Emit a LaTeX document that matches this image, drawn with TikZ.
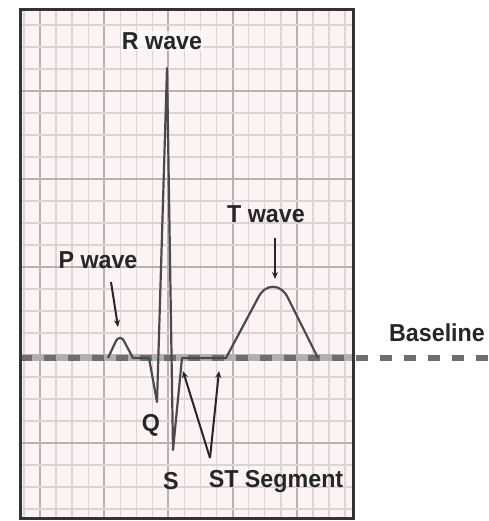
\documentclass[tikz,border=0pt]{standalone}
\usepackage{fontspec}
\setmainfont{Liberation Sans}
\newfontfamily\labfont[FakeStretch=0.95]{Liberation Sans}
\usetikzlibrary{arrows.meta}
\definecolor{paper}{HTML}{FCF4F4}
\definecolor{minorc}{HTML}{DDD3D3}
\definecolor{majorc}{HTML}{BAB0B0}
\definecolor{tracec}{HTML}{4A4A4A}
\definecolor{basec}{HTML}{6E6E6E}
\definecolor{textc}{HTML}{262626}
\tikzset{
  lab/.style={font=\labfont\bfseries\fontsize{24.5}{24.5}\selectfont, text=textc, inner sep=1pt},
  minorline/.style={draw=minorc, line width=1.4pt},
  majorline/.style={draw=majorc, line width=2pt},
  trace/.style={draw=tracec, line width=2.2pt, line join=round},
  pointer/.style={draw=textc, line width=2pt, -{Stealth[length=7pt,width=6pt]}},
  baseline/.style={draw=basec, line width=6pt, dash pattern=on 12pt off 12pt},
  frame/.style={draw=black!80, line width=3pt}
}
\begin{document}
\begin{tikzpicture}[x=1pt,y=-1pt]
\useasboundingbox (0,0) rectangle (488,521);
\fill[white] (0,0) rectangle (488,521);
% paper
\fill[paper] (20,10) rectangle (353,518);
% grid
\foreach \i in {0,...,20} {
  \pgfmathsetmacro{\xx}{24+16.05*\i}
  \ifnum\i=1 \def\st{majorline}\else\ifnum\i=5 \def\st{majorline}\else\ifnum\i=9 \def\st{majorline}\else\ifnum\i=13 \def\st{majorline}\else\ifnum\i=17 \def\st{majorline}\else\def\st{minorline}\fi\fi\fi\fi\fi
  \draw[\st] (\xx,10) -- (\xx,518);
}
\foreach \j in {0,...,22} {
  \pgfmathsetmacro{\yy}{25+22*\j}
  \ifnum\j=3 \def\st{majorline}\else\ifnum\j=7 \def\st{majorline}\else\ifnum\j=11 \def\st{majorline}\else\ifnum\j=15 \def\st{majorline}\else\ifnum\j=19 \def\st{majorline}\else\def\st{minorline}\fi\fi\fi\fi\fi
  \draw[\st] (20,\yy) -- (353,\yy);
}
% baseline
\coordinate (bl0) at (20,358);
\coordinate (bl1) at (353,358);
\coordinate (bl2) at (488,358);
\draw[draw=basec!55, line width=5pt] (bl0) -- (bl1);
\draw[baseline] (bl0) -- (bl2);
% trace points
\coordinate (p0) at (108,358);
\coordinate (p1) at (133,358);
\coordinate (q0) at (149,358);
\coordinate (q) at (157,402);
\coordinate (r) at (167,68);
\coordinate (s) at (173,450);
\coordinate (j) at (182,358);
\coordinate (t0) at (226,358);
\coordinate (t1) at (318,358);
\draw[trace] (p0) -- (115,343) .. controls (118,336) and (122,336) .. (125,343) -- (p1)
  -- (q0) -- (q) -- (r) -- (s) -- (j) -- (t0)
  -- (258,298) .. controls (265,283) and (281,283) .. (288,298) -- (t1);
% frame
\draw[frame] (20,10) rectangle (353,518);
% labels
\node[lab, fill=white, fill opacity=0.6, text opacity=1] (rlab) at (162,41) {R wave};
\node[lab] (plab) at (98,260) {P wave};
\node[lab] (tlab) at (266,214) {T wave};
\node[lab] (blab) at (437,333) {Baseline};
\node[lab] (qlab) at (151,425) {Q};
\node[lab] (slab) at (171,481) {S};
\node[lab] (stlab) at (276,482) {ST Segment};
% pointers
\coordinate (pa0) at (111,282);
\coordinate (pa1) at (118,327);
\coordinate (ta0) at (275,238);
\coordinate (ta1) at (275,279);
\coordinate (sta) at (210,458);
\coordinate (stl) at (183,371);
\coordinate (str) at (219,371);
\draw[pointer] (pa0) -- (pa1);
\draw[pointer] (ta0) -- (ta1);
\draw[pointer] (sta) -- (stl);
\draw[pointer] (sta) -- (str);
\end{tikzpicture}
\end{document}
